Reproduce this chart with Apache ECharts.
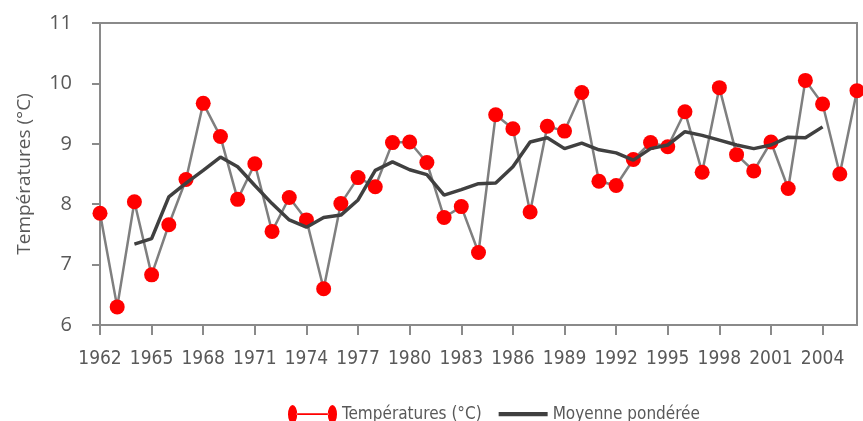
<!DOCTYPE html>
<html>
<head>
<meta charset="utf-8">
<script src="https://cdn.jsdelivr.net/npm/echarts@6/dist/echarts.min.js"></script>
<style>
html,body{margin:0;padding:0;background:#fff;}
#c{width:863px;height:421px;}
</style>
</head>
<body>
<div id="c"></div>
<script>
var years = ['1962','1963','1964','1965','1966','1967','1968','1969','1970','1971',
  '1972','1973','1974','1975','1976','1977','1978','1979','1980','1981',
  '1982','1983','1984','1985','1986','1987','1988','1989','1990','1991',
  '1992','1993','1994','1995','1996','1997','1998','1999','2000','2001',
  '2002','2003','2004','2005','2006'];

var temperatures = [7.85, 6.30, 8.04, 6.83, 7.66, 8.41, 9.67, 9.12, 8.08, 8.67,
  7.55, 8.11, 7.74, 6.60, 8.01, 8.44, 8.29, 9.02, 9.03, 8.69,
  7.78, 7.96, 7.20, 9.48, 9.25, 7.87, 9.29, 9.21, 9.85, 8.38,
  8.31, 8.74, 9.02, 8.95, 9.53, 8.53, 9.93, 8.82, 8.55, 9.03,
  8.26, 10.05, 9.66, 8.50, 9.88];

var moyenne = [null, null, 7.34, 7.43, 8.12, 8.35, 8.56, 8.78, 8.62, 8.31,
  8.01, 7.74, 7.62, 7.78, 7.82, 8.07, 8.56, 8.70, 8.57, 8.49,
  8.15, 8.24, 8.34, 8.35, 8.62, 9.03, 9.10, 8.92, 9.01, 8.90,
  8.85, 8.73, 8.92, 8.98, 9.20, 9.14, 9.06, 8.98, 8.92, 8.98,
  9.11, 9.10, 9.28, null, null];

var yTicks = {min: 6, max: 11, interval: 1};
var seriesNames = ['Températures (°C)', 'Moyenne pondérée'];
var yAxisName = 'Températures (°C)';

var narrow = "'DejaVu Sans Condensed', sans-serif";
var regular = "'Open Sans', sans-serif";
var axisGray = '#8a8a8a';
var textGray = '#595959';

var chart = echarts.init(document.getElementById('c'), null, {renderer: 'canvas'});
chart.setOption({
  animation: false,
  backgroundColor: '#ffffff',
  grid: {
    left: 100, right: 6, top: 23, bottom: 96,
    show: true, borderColor: axisGray, borderWidth: 2, backgroundColor: 'transparent'
  },
  legend: {
    left: 283, top: 400,
    itemWidth: 49, itemHeight: 20, itemGap: 17,
    textStyle: {fontFamily: narrow, fontSize: 17, color: textGray},
    data: [
      {name: seriesNames[0],
       icon: 'path://M0.5,10 A4.5,9 0 1,0 9.5,10 A4.5,9 0 1,0 0.5,10 Z M9,9.2 L40,9.2 L40,10.8 L9,10.8 Z M39.5,10 A4.5,9 0 1,0 48.5,10 A4.5,9 0 1,0 39.5,10 Z',
       itemStyle: {color: '#ff0000'}},
      {name: seriesNames[1],
       icon: 'path://M0,0 L45,0 L45,4 L0,4 Z',
       itemStyle: {color: '#404040'}}
    ]
  },
  xAxis: {
    type: 'category',
    data: years,
    boundaryGap: false,
    axisLine: {lineStyle: {color: axisGray, width: 2}},
    axisTick: {show: true, interval: 2, length: 10, lineStyle: {color: axisGray, width: 2}},
    axisLabel: {interval: 2, margin: 25, color: textGray, fontFamily: narrow, fontSize: 19},
    splitLine: {show: false}
  },
  yAxis: {
    type: 'value',
    min: yTicks.min, max: yTicks.max, interval: yTicks.interval,
    name: yAxisName,
    nameLocation: 'middle',
    nameRotate: 90,
    nameGap: 66,
    nameTextStyle: {color: textGray, fontFamily: regular, fontSize: 19},
    axisLine: {show: true, lineStyle: {color: axisGray, width: 2}},
    axisTick: {show: true, length: 8, lineStyle: {color: axisGray, width: 2}},
    axisLabel: {margin: 28, color: textGray, fontFamily: regular, fontSize: 20},
    splitLine: {show: false}
  },
  series: [
    {
      name: seriesNames[0],
      type: 'line',
      data: temperatures,
      symbol: 'circle',
      symbolSize: 15,
      showSymbol: true,
      showAllSymbol: true,
      itemStyle: {color: '#ff0000'},
      lineStyle: {color: '#7f7f7f', width: 2.5},
      z: 2
    },
    {
      name: seriesNames[1],
      type: 'line',
      data: moyenne,
      showSymbol: false,
      symbol: 'none',
      connectNulls: false,
      itemStyle: {color: '#404040'},
      lineStyle: {color: '#404040', width: 3.5},
      z: 3
    }
  ]
});
</script>
</body>
</html>
